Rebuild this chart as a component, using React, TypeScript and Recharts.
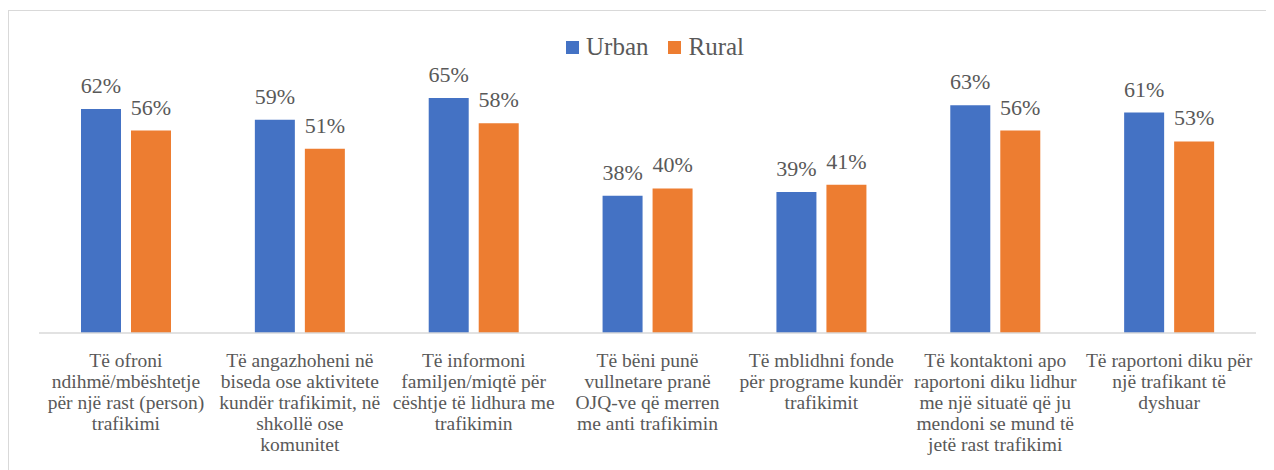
import { BarChart, Bar, XAxis, YAxis, LabelList } from "recharts";

const categories = [
  "Të ofroni\nndihmë/mbështetje\npër një rast (person)\ntrafikimi",
  "Të angazhoheni në\nbiseda ose aktivitete\nkundër trafikimit, në\nshkollë ose\nkomunitet",
  "Të informoni\nfamiljen/miqtë për\ncështje të lidhura me\ntrafikimin",
  "Të bëni punë\nvullnetare pranë\nOJQ-ve që merren\nme anti trafikimin",
  "Të mblidhni fonde\npër programe kundër\ntrafikimit",
  "Të kontaktoni apo\nraportoni diku lidhur\nme një situatë që ju\nmendoni se mund të\njetë rast trafikimi",
  "Të raportoni diku për\nnjë trafikant të\ndyshuar",
];
const urban = [62, 59, 65, 38, 39, 63, 61];
const rural = [56, 51, 58, 40, 41, 56, 53];

const rows = categories.map((c, i) => ({ name: c, urban: urban[i], rural: rural[i] }));

const FONT = "Liberation Serif";
const TEXT = "#595959";

function Tick({ x, y, payload }: any) {
  const lines = String(payload.value).split("\n");
  return (
    <text x={x} y={y} textAnchor="middle" fill={TEXT} style={{ fontFamily: FONT, fontSize: 19.5 }}>
      {lines.map((l, i) => (
        <tspan key={i} x={x} dy={i === 0 ? 26 : 21}>{l}</tspan>
      ))}
    </text>
  );
}

function LegendBox() {
  const items = [
    { label: "Urban", color: "#4472C4" },
    { label: "Rural", color: "#ED7D31" },
  ];
  return (
    <div style={{ position: "absolute", top: 25, left: 558, display: "flex", gap: 20, fontFamily: FONT, fontSize: 25, color: TEXT }}>
      {items.map(it => (
        <div key={it.label} style={{ display: "flex", alignItems: "center", gap: 7 }}>
          <span style={{ width: 13, height: 13, background: it.color, display: "inline-block" }} />
          <span>{it.label}</span>
        </div>
      ))}
    </div>
  );
}

export default function App() {
  return (
    <div style={{ position: "relative", width: 1266, height: 462 }}>
      <div style={{ position: "absolute", left: 0, top: 2, width: 1266, height: 470, borderTop: "1.5px solid #d9d9d9", borderLeft: "1.5px solid #d9d9d9" }} />
      <LegendBox />
      <BarChart width={1266} height={462} data={rows} margin={{ top: 72, right: 18, left: 31, bottom: 7 }} barGap={10} barSize={40}>
        <XAxis dataKey="name" interval={0} tickLine={false} axisLine={{ stroke: "#d9d9d9", strokeWidth: 1.5 }} height={130} tick={<Tick />} />
        <YAxis hide domain={[0, 70]} />
        <Bar dataKey="urban" fill="#4472C4" isAnimationActive={false}>
          <LabelList dataKey="urban" position="top" offset={16} formatter={(v: any) => `${v}%`} fill={TEXT} style={{ fontFamily: FONT, fontSize: 22 }} />
        </Bar>
        <Bar dataKey="rural" fill="#ED7D31" isAnimationActive={false}>
          <LabelList dataKey="rural" position="top" offset={16} formatter={(v: any) => `${v}%`} fill={TEXT} style={{ fontFamily: FONT, fontSize: 22 }} />
        </Bar>
      </BarChart>
    </div>
  );
}
